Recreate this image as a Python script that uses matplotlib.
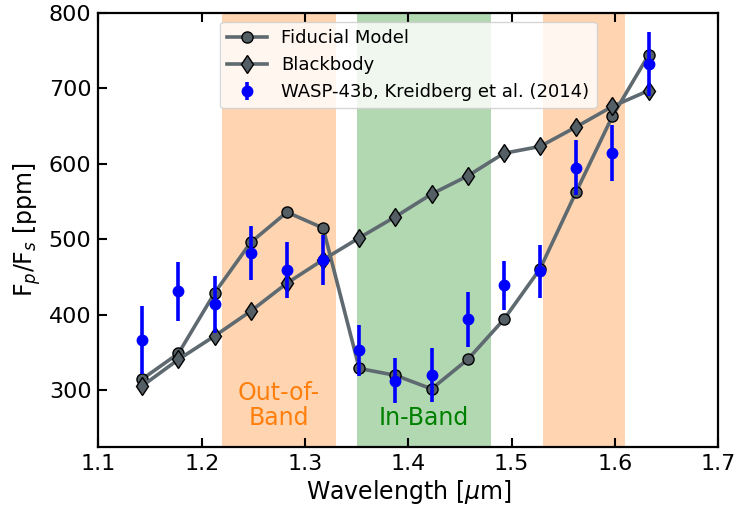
import numpy as np
import matplotlib
matplotlib.use("Agg")
import matplotlib.pyplot as plt

# spectral bins (microns)
wavelength = [1.1425, 1.1775, 1.2125, 1.2475, 1.2825, 1.3175, 1.3525, 1.3875,
              1.4225, 1.4575, 1.4925, 1.5275, 1.5625, 1.5975, 1.6325]

# WASP-43b eclipse depths (ppm)
obs_depth = [367, 431, 414, 482, 460, 473, 353, 313, 320, 394, 439, 458, 595, 614, 732]
obs_err = [45, 39, 38, 36, 37, 33, 34, 30, 36, 36, 33, 35, 36, 37, 42]

fiducial = [315, 349, 429, 496, 536, 515, 329, 320, 302, 341, 394, 461, 563, 663, 744]
blackbody = [306, 341, 372, 405, 442, 473, 502, 530, 560, 584, 614, 623, 649, 676, 697]

out_band_1 = (1.22, 1.33)
in_band = (1.35, 1.48)
out_band_2 = (1.53, 1.61)

line_col = "#5e6970"
face_col = "#535e65"

fig = plt.figure(figsize=(7.38, 5.08), dpi=100)
ax = fig.add_subplot(1, 1, 1)
fig.subplots_adjust(left=0.1333, right=0.9733, top=0.9748, bottom=0.12)

ax.axvspan(*out_band_1, color="C1", alpha=0.32, lw=0)
ax.axvspan(*in_band, color="green", alpha=0.3, lw=0)
ax.axvspan(*out_band_2, color="C1", alpha=0.32, lw=0)

ax.plot(wavelength, fiducial, "-o", color=line_col, lw=2.6, ms=8,
        mfc=face_col, mec="k", mew=1.0, label="Fiducial Model")
ax.plot(wavelength, blackbody, "-d", color=line_col, lw=2.6, ms=9.5,
        mfc=face_col, mec="k", mew=1.0, label="Blackbody")
ax.errorbar(wavelength, obs_depth, yerr=obs_err, fmt="o", color="blue",
            ms=7.5, elinewidth=2.6, capsize=0, zorder=5,
            label="WASP-43b, Kreidberg et al. (2014)")

ax.text(np.mean(out_band_1), 280, "Out-of-\nBand", color="C1", fontsize=17,
        ha="center", va="center", linespacing=1.1)
ax.text(np.mean(in_band), 263, "In-Band", color="green", fontsize=17,
        ha="center", va="center")

ax.set_xlim(1.1, 1.7)
ax.set_ylim(225, 800)
ax.set_xticks(np.arange(1.1, 1.71, 0.1))
ax.set_yticks([300, 400, 500, 600, 700, 800])

ax.set_xlabel(r"Wavelength [$\mu$m]", fontsize=17, labelpad=3)
ax.set_ylabel(r"F$_p$/F$_s$ [ppm]", fontsize=17, labelpad=4)

ax.tick_params(axis="both", which="major", direction="in", length=6.5,
               width=1.5, labelsize=16, pad=5, top=True, right=False)
for sp in ax.spines.values():
    sp.set_linewidth(1.6)

ax.legend(loc="upper center", fontsize=13, handlelength=2.2)

fig.savefig("out.png", dpi=100)
